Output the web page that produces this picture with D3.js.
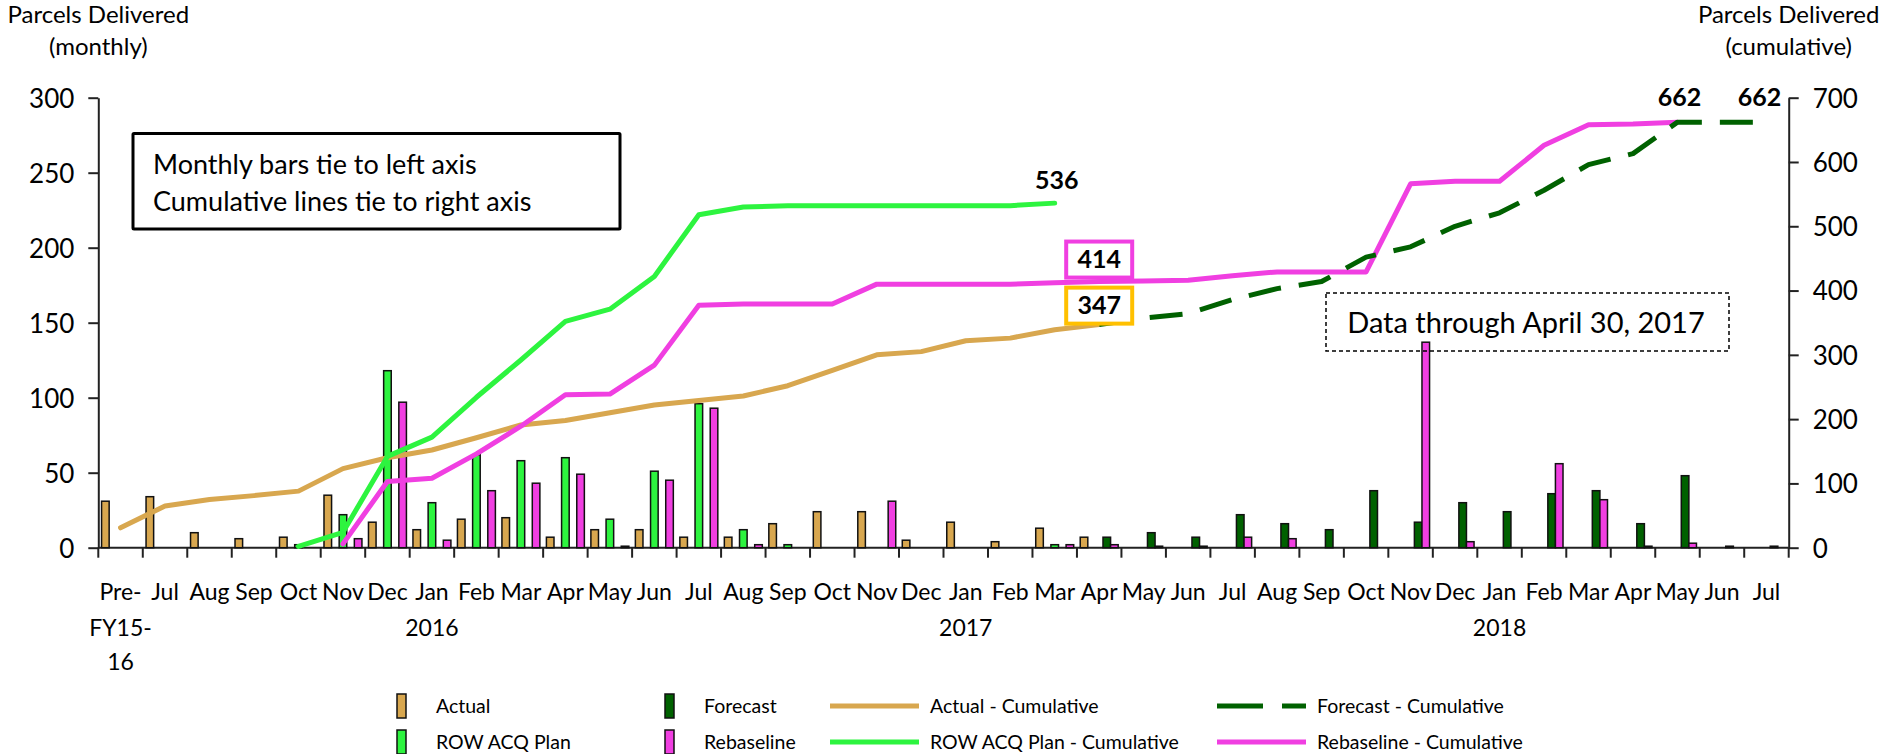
<!DOCTYPE html>
<html>
<head>
<meta charset="utf-8">
<script src="https://cdn.jsdelivr.net/npm/d3@7"></script>
<style>
  html, body { margin: 0; padding: 0; background: #fff; }
  svg { display: block; font-family: Lato, "Open Sans", sans-serif; }
</style>
</head>
<body>
<svg id="chart" width="1886" height="754"></svg>
<script>
// ---------------- DATA ----------------
const categories = ["Pre-FY15-16","Jul","Aug","Sep","Oct","Nov","Dec",
  "Jan","Feb","Mar","Apr","May","Jun","Jul","Aug","Sep","Oct","Nov","Dec",
  "Jan","Feb","Mar","Apr","May","Jun","Jul","Aug","Sep","Oct","Nov","Dec",
  "Jan","Feb","Mar","Apr","May","Jun","Jul"];
const firstLabelLines = ["Pre-","FY15-","16"];
const yearIndex = [7, 19, 31];
const yearLabels = ["2016","2017","2018"];

// monthly bars (left axis); null = no bar
const actual = [31,34,10,6,7,35,17,12,19,20,7,12,12,7,7,16,24,24,5,17,4,13,7,
  null,null,null,null,null,null,null,null,null,null,null,null,null,null,null];
const rowPlan = [null,null,null,null,2,22,118,30,62,58,60,19,51,96,12,2,null,null,null,null,null,2,null,
  null,null,null,null,null,null,null,null,null,null,null,null,null,null,null];
const forecast = [null,null,null,null,null,null,null,null,null,null,null,null,null,null,null,null,null,null,null,null,null,null,
  7,10,7,22,16,12,38,17,30,24,36,38,16,48,1,1];
const rebaseline = [null,null,null,null,null,6,97,5,38,43,49,1,45,93,2,null,null,31,null,null,null,2,2,
  1,1,7,6,null,null,137,4,null,56,32,1,3,null,null];

// cumulative lines (right axis); null = no point
const actualCum = [31,65,75,81,88,123,140,152,171,191,198,210,222,229,236,252,276,300,305,322,326,339,347,
  null,null,null,null,null,null,null,null,null,null,null,null,null,null,null];
const rowPlanCum = [null,null,null,null,2,24,142,172,234,292,352,371,422,518,530,532,532,532,532,532,532,536,
  null,null,null,null,null,null,null,null,null,null,null,null,null,null,null,null];
const forecastCum = [null,null,null,null,null,null,null,null,null,null,null,null,null,null,null,null,null,null,null,null,null,null,
  347,357,364,386,403,414,452,468,500,521,556,596,613,662,662,662];
const rebaselineCum = [null,null,null,null,null,6,103,108,146,189,238,239,284,377,379,379,379,410,410,410,410,412,414,
  415,416,423,429,429,429,566,570,570,626,658,659,662,null,null];

const leftTicks = [0,50,100,150,200,250,300];
const rightTicks = [0,100,200,300,400,500,600,700];

// ---------------- STYLE ----------------
const C = {
  actual: "#d8a74f",
  row: "#2df43f",
  forecast: "#006100",
  rebase: "#f03fe1",
  gold: "#ffc000"
};

const svg = d3.select("#chart");
const L = 98.3, R = 1788.7, T = 97.7, B = 547.7;

const x = d3.scaleBand().domain(categories.map((d, i) => i)).range([L, R]).padding(0);
const slots = ["Actual", "spacer", "ROW ACQ Plan", "Forecast", "Rebaseline"];
const xs = d3.scaleBand().domain(slots).range([0, x.bandwidth()]).paddingInner(0).paddingOuter(0.43);
const yL = d3.scaleLinear().domain([0, 300]).range([B, T]);
const yR = d3.scaleLinear().domain([0, 700]).range([B, T]);
const cx = i => x(i) + x.bandwidth() / 2;

// ---------------- AXES ----------------
const axisColor = "#222";
const gL = svg.append("g").attr("transform", `translate(${L},0)`)
  .call(d3.axisLeft(yL).tickValues(leftTicks).tickSize(10).tickSizeOuter(0).tickPadding(14));
const gR = svg.append("g").attr("transform", `translate(${R},0)`)
  .call(d3.axisRight(yR).tickValues(rightTicks).tickSize(10).tickSizeOuter(0).tickPadding(14));
[gL, gR].forEach(g => {
  g.select(".domain").attr("stroke", axisColor).attr("stroke-width", 2);
  g.selectAll(".tick line").attr("stroke", axisColor).attr("stroke-width", 2);
  g.selectAll(".tick text").attr("font-size", 26).attr("fill", "#000")
    .attr("font-family", "Lato, sans-serif").attr("dy", "0.36em");
});

// bottom axis: baseline + ticks at band boundaries
svg.append("line").attr("x1", L).attr("x2", R).attr("y1", B).attr("y2", B)
  .attr("stroke", axisColor).attr("stroke-width", 2);
svg.append("g").selectAll("line")
  .data(d3.range(categories.length + 1))
  .join("line")
  .attr("x1", i => i < categories.length ? x(i) : R)
  .attr("x2", i => i < categories.length ? x(i) : R)
  .attr("y1", B).attr("y2", B + 10)
  .attr("stroke", axisColor).attr("stroke-width", 2);

// month labels
const monthG = svg.append("g").attr("font-size", 23).attr("text-anchor", "middle").attr("fill", "#000");
monthG.selectAll("text.m")
  .data(categories.map((d, i) => ({ d, i })).filter(o => o.i > 0))
  .join("text").attr("class", "m")
  .attr("x", o => cx(o.i)).attr("y", 600).text(o => o.d);
monthG.append("text").attr("x", cx(0)).attr("y", 600)
  .selectAll("tspan").data(firstLabelLines).join("tspan")
  .attr("x", cx(0)).attr("y", (d, i) => [600, 636, 670][i]).text(d => d);
monthG.selectAll("text.yr").data(yearIndex).join("text").attr("class", "yr")
  .attr("x", i => cx(i)).attr("y", 636).text((d, k) => yearLabels[k]);

// axis titles
const titleG = svg.append("g").attr("font-size", 24).attr("text-anchor", "middle").attr("fill", "#000");
titleG.append("text").attr("x", L).attr("y", 23).text("Parcels Delivered");
titleG.append("text").attr("x", L).attr("y", 55).text("(monthly)");
titleG.append("text").attr("x", R).attr("y", 23).text("Parcels Delivered");
titleG.append("text").attr("x", R).attr("y", 55).text("(cumulative)");

// ---------------- BARS ----------------
const barSeries = [
  { key: "Actual", values: actual, color: C.actual },
  { key: "ROW ACQ Plan", values: rowPlan, color: C.row },
  { key: "Forecast", values: forecast, color: C.forecast },
  { key: "Rebaseline", values: rebaseline, color: C.rebase }
];
const barG = svg.append("g");
barSeries.forEach(s => {
  barG.append("g").selectAll("rect")
    .data(s.values.map((v, i) => ({ v, i })).filter(o => o.v !== null))
    .join("rect")
    .attr("x", o => x(o.i) + xs(s.key))
    .attr("width", xs.bandwidth())
    .attr("y", o => yL(o.v))
    .attr("height", o => yL(0) - yL(o.v))
    .attr("fill", s.color)
    .attr("stroke", "#111")
    .attr("stroke-width", 1.5);
});

// ---------------- LINES ----------------
const lineGen = d3.line()
  .defined(o => o.v !== null)
  .x(o => cx(o.i)).y(o => yR(o.v));
const lineSeries = [
  { values: actualCum, color: C.actual, dash: null },
  { values: rowPlanCum, color: C.row, dash: null },
  { values: rebaselineCum, color: C.rebase, dash: null },
  { values: forecastCum, color: C.forecast, dash: "33,18" }
];
const lineG = svg.append("g");
lineSeries.forEach(s => {
  lineG.append("path")
    .datum(s.values.map((v, i) => ({ v, i })))
    .attr("d", lineGen)
    .attr("fill", "none")
    .attr("stroke", s.color)
    .attr("stroke-width", 5)
    .attr("stroke-linejoin", "round")
    .attr("stroke-linecap", s.dash ? "butt" : "round")
    .attr("stroke-dasharray", s.dash);
});

// ---------------- ANNOTATIONS ----------------
const annG = svg.append("g").attr("font-weight", "bold").attr("font-size", 25)
  .attr("text-anchor", "middle").attr("fill", "#000");
// 536
annG.append("text").attr("x", cx(21) + 2).attr("y", yR(536) - 14).text("536");
// 662 labels
annG.append("text").attr("x", cx(35) + 2).attr("y", yR(662) - 16).text("662");
annG.append("text").attr("x", cx(37) - 7).attr("y", yR(662) - 16).text("662");
// 414 boxed
annG.append("rect").attr("x", cx(22) - 33).attr("y", yR(414) - 40).attr("width", 66).attr("height", 36)
  .attr("fill", "#fff").attr("stroke", C.rebase).attr("stroke-width", 4);
annG.append("text").attr("x", cx(22)).attr("y", yR(414) - 14).text("414");
// 347 boxed
annG.append("rect").attr("x", cx(22) - 33).attr("y", yR(347) - 37).attr("width", 66).attr("height", 36)
  .attr("fill", "#fff").attr("stroke", C.gold).attr("stroke-width", 4);
annG.append("text").attr("x", cx(22)).attr("y", yR(347) - 11).text("347");

// note boxes
const noteG = svg.append("g").attr("fill", "#000");
noteG.append("rect").attr("x", 133).attr("y", 133.5).attr("width", 487).attr("height", 95.5)
  .attr("fill", "#fff").attr("stroke", "#000").attr("stroke-width", 3).attr("rx", 1);
noteG.append("text").attr("x", 153).attr("y", 174).attr("font-size", 27).text("Monthly bars tie to left axis");
noteG.append("text").attr("x", 153).attr("y", 211).attr("font-size", 27).text("Cumulative lines tie to right axis");

noteG.append("rect").attr("x", 1326).attr("y", 293).attr("width", 403).attr("height", 58)
  .attr("fill", "none").attr("stroke", "#000").attr("stroke-width", 1.5).attr("stroke-dasharray", "4,3");
noteG.append("text").attr("x", 1526).attr("y", 333).attr("font-size", 29).attr("text-anchor", "middle")
  .text("Data through April 30, 2017");

// ---------------- LEGEND ----------------
const legendItems = [
  { label: "Actual", type: "bar", color: C.actual, x: 397, row: 0 },
  { label: "Forecast", type: "bar", color: C.forecast, x: 665, row: 0 },
  { label: "Actual - Cumulative", type: "line", color: C.actual, x: 830, row: 0 },
  { label: "Forecast - Cumulative", type: "dash", color: C.forecast, x: 1217, row: 0 },
  { label: "ROW ACQ Plan", type: "bar", color: C.row, x: 397, row: 1 },
  { label: "Rebaseline", type: "bar", color: C.rebase, x: 665, row: 1 },
  { label: "ROW ACQ Plan - Cumulative", type: "line", color: C.row, x: 830, row: 1 },
  { label: "Rebaseline - Cumulative", type: "line", color: C.rebase, x: 1217, row: 1 }
];
const rowY = [706, 742];
const legG = svg.append("g").attr("font-size", 19.5).attr("fill", "#000");
legendItems.forEach(it => {
  const yc = rowY[it.row];
  if (it.type === "bar") {
    legG.append("rect").attr("x", it.x).attr("y", yc - 12).attr("width", 9).attr("height", 24)
      .attr("fill", it.color).attr("stroke", "#111").attr("stroke-width", 1.5);
    legG.append("text").attr("x", it.x + 39).attr("y", yc + 7).text(it.label);
  } else {
    legG.append("line").attr("x1", it.x).attr("x2", it.x + 89).attr("y1", yc).attr("y2", yc)
      .attr("stroke", it.color).attr("stroke-width", 5)
      .attr("stroke-dasharray", it.type === "dash" ? "46,19" : null);
    legG.append("text").attr("x", it.x + 100).attr("y", yc + 7).text(it.label);
  }
});
</script>
</body>
</html>
